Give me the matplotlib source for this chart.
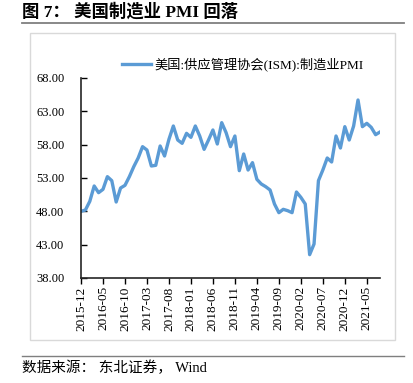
import matplotlib.pyplot as plt
import pandas as pd

months = pd.period_range("2015-12", "2021-08", freq="M").strftime("%Y-%m").tolist()

pmi = [
    48.0, 48.2, 49.5, 51.8, 50.8, 51.3, 53.2, 52.6, 49.4, 51.5,
    51.9, 53.2, 54.7, 56.0, 57.7, 57.2, 54.8, 54.9, 57.8, 56.3,
    58.8, 60.8, 58.7, 58.2, 59.7, 59.1, 60.8, 59.3, 57.3, 58.7,
    60.2, 58.1, 61.3, 59.8, 57.7, 59.3, 54.1, 56.6, 54.2, 55.3,
    52.8, 52.1, 51.7, 51.2, 49.1, 47.8, 48.3, 48.1, 47.8, 50.9,
    50.1, 49.1, 41.5, 43.1, 52.6, 54.2, 56.0, 55.4, 59.3, 57.5,
    60.7, 58.7, 60.8, 64.7, 60.7, 61.2, 60.6, 59.5, 59.9,
]

series_name = "美国:供应管理协会(ISM):制造业PMI"
title = "图 7： 美国制造业 PMI 回落"
source = "数据来源： 东北证券， Wind"

serif = ["Liberation Serif", "Noto Sans CJK SC"]
plt.rcParams["font.family"] = serif

fig = plt.figure(figsize=(4.13, 3.83), dpi=100)

# outer gray frame round the chart
frame = plt.Rectangle((30 / 413, 1 - 340 / 383), 365 / 413, 307 / 383,
                      transform=fig.transFigure, fill=False,
                      edgecolor="#d9d9d9", linewidth=1)
fig.add_artist(frame)

# title and rules
fig.text(22 / 413, 1 - 12 / 383, title, fontsize=12.5, fontweight="bold",
         va="center", ha="left")
fig.add_artist(plt.Line2D([22 / 413, 404 / 413], [1 - 23 / 383] * 2,
                          transform=fig.transFigure, color="#7f7f7f", linewidth=1.3))
fig.add_artist(plt.Line2D([22 / 413, 404 / 413], [1 - 356 / 383] * 2,
                          transform=fig.transFigure, color="#7f7f7f", linewidth=1.0))
fig.text(22 / 413, 1 - 368 / 383, source, fontsize=10.5, va="center", ha="left")

ax = fig.add_axes([81 / 413, 1 - 278 / 383, 299 / 413, 200 / 383])
x = list(range(len(months)))
ax.plot(x, pmi, color="#5b9bd5", linewidth=2.4, label=series_name,
        solid_joinstyle="round")

ax.set_xlim(0, len(months) - 1)
ax.set_ylim(38, 68)
ax.set_yticks(range(38, 69, 5))
ax.set_yticklabels([f"{v:.2f}" for v in range(38, 69, 5)], fontsize=9)
ax.set_xticks(x[::5])
ax.set_xticklabels(months[::5], rotation=90, fontsize=9.5)
ax.tick_params(axis="y", direction="in", length=4, width=1, pad=12)
ax.tick_params(axis="x", direction="out", length=4, width=1, pad=2)

for side in ("top", "right"):
    ax.spines[side].set_visible(False)
for side in ("left", "bottom"):
    ax.spines[side].set_color("#262626")
    ax.spines[side].set_linewidth(1.2)

ax.legend(loc="lower left", bbox_to_anchor=(115 / 413, 1 - 78 / 383),
          bbox_transform=fig.transFigure, frameon=False, fontsize=9.5,
          handlelength=2.2, handletextpad=0.3, borderpad=0)

fig.savefig("out.png", dpi=100)
